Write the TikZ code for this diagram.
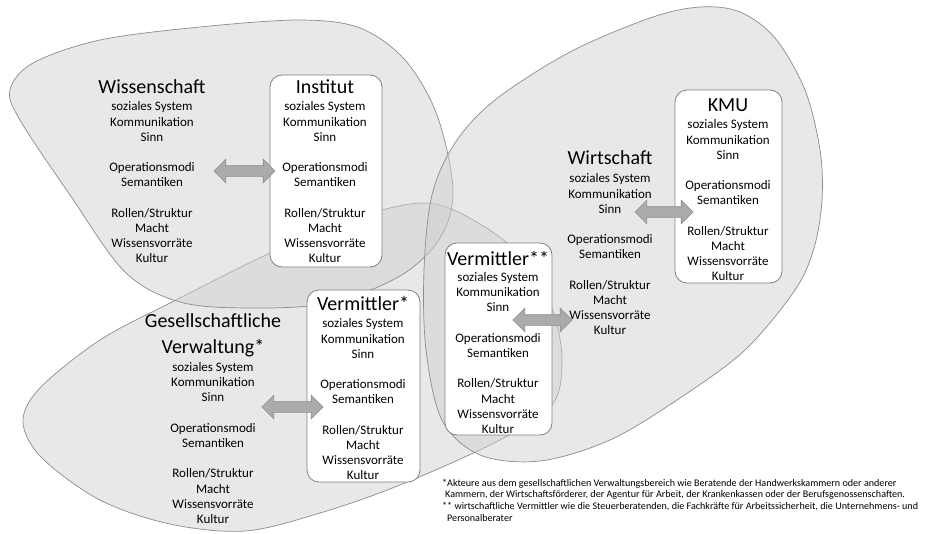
\documentclass[tikz,border=0pt]{standalone}
\usepackage{fontspec}
\setmainfont{Carlito}
\usetikzlibrary{shapes.arrows}
\definecolor{blobfill}{gray}{0.81}
\definecolor{blobline}{HTML}{8C8C8C}
\begin{document}
\begin{tikzpicture}[x=1pt,y=-1pt,
  blob/.style={fill=blobfill,fill opacity=0.48,draw=blobline,draw opacity=1,line width=0.7pt},
  sysbox/.style={draw=black!50,line width=0.8pt,fill=white,rounded corners=12pt,inner sep=0pt},
  title/.style={inner sep=0pt,font=\fontsize{20}{26}\selectfont,align=center},
  body/.style={inner sep=0pt,font=\fontsize{13}{15.2}\selectfont,align=center},
  dblarrow/.style={double arrow,draw=black!45,fill=black!33,line width=0.6pt,inner sep=5pt,
    double arrow head extend=6.5pt,double arrow tip angle=90,anchor=center}
]
\useasboundingbox (0,0) rectangle (950,533);
\fill[white] (0,0) rectangle (950,533);

% blobs (Gesellschaft, Wissenschaft, Wirtschaft)
\draw[blob] plot[smooth cycle,tension=0.55] coordinates {
 (427,203) (480,224) (525,260) (552,308) (562,360) (552,405) (500,440) (400,485)
 (320,513) (245,531) (170,524) (100,500) (42,458) (23,422) (40,388) (100,340)
 (170,303) (270,253) (355,218)};
\draw[blob] plot[smooth cycle,tension=0.55] coordinates {
 (10,90) (33,63) (100,40) (200,27) (300,20) (360,28) (405,60) (437,115) (453,190)
 (440,238) (400,276) (330,303) (250,308) (180,302) (125,272) (70,195) (20,120)};
\draw[blob] plot[smooth cycle,tension=0.55] coordinates {
 (700,7) (740,12) (775,38) (805,90) (820,150) (822,200) (814,248) (795,290) (745,350)
 (680,398) (610,440) (540,461) (480,455) (442,420) (426,350) (424,270) (432,195)
 (455,143) (495,100) (570,52) (650,18)};

% boxes
\node[sysbox,minimum width=112pt,minimum height=192pt] (binst) at (326,171) {};
\node[sysbox,minimum width=107pt,minimum height=193pt] (bkmu) at (728.5,186.5) {};
\node[sysbox,minimum width=107pt,minimum height=192pt] (bv2) at (498.5,339) {};
\node[sysbox,minimum width=113pt,minimum height=192pt] (bv1) at (363.5,386) {};

\newcommand{\sysbody}{soziales System\\Kommunikation\\Sinn\\[15.2pt]Operationsmodi\\Semantiken\\[15.2pt]Rollen/Struktur\\Macht\\Wissensvorräte\\Kultur}

% Wissenschaft
\node[title] (tw) at (152,87) {Wissenschaft};
\node[body] (bw) at (152,182.5) {\sysbody};
% Institut
\node[title] (ti) at (325,87) {Institut};
\node[body] (bi) at (325,182.5) {\sysbody};
% Wirtschaft
\node[title] (twi) at (610,158) {Wirtschaft};
\node[body] (bwi) at (610,254.5) {\sysbody};
% KMU
\node[title] (tk) at (728,105) {KMU};
\node[body] (bk) at (728,200.5) {\sysbody};
% Vermittler**
\node[title] (tv2) at (498,258) {Vermittler**};
\node[body] (bbv2) at (498,353) {\sysbody};
% Vermittler*
\node[title] (tv1) at (363,303) {Vermittler*};
\node[body] (bbv1) at (363,399.5) {\sysbody};
% Gesellschaftliche Verwaltung*
\node[title] (tg) at (213,335) {Gesellschaftliche\\Verwaltung*};
\node[body] (bg) at (213,443) {\sysbody};

% double arrows
\node[dblarrow,minimum height=61pt] (a1) at (244.5,171) {};
\node[dblarrow,minimum height=58pt] (a2) at (664,212) {};
\node[dblarrow,minimum height=61pt] (a3) at (292.5,407) {};
\node[dblarrow,minimum height=59pt] (a4) at (542.5,320) {};

% footnote
\node[inner sep=0pt,anchor=north west,align=left,font=\fontsize{10.1}{11.6}\selectfont] (fn) at (442,479)
{*Akteure aus dem gesellschaftlichen Verwaltungsbereich wie Beratende der Handwerkskammern oder anderer\\
\hspace*{3pt}Kammern, der Wirtschaftsförderer, der Agentur für Arbeit, der Krankenkassen oder der Berufsgenossenschaften.\\
** wirtschaftliche Vermittler wie die Steuerberatenden, die Fachkräfte für Arbeitssicherheit, die Unternehmens- und\\
\hspace*{5pt}Personalberater};
\end{tikzpicture}
\end{document}
